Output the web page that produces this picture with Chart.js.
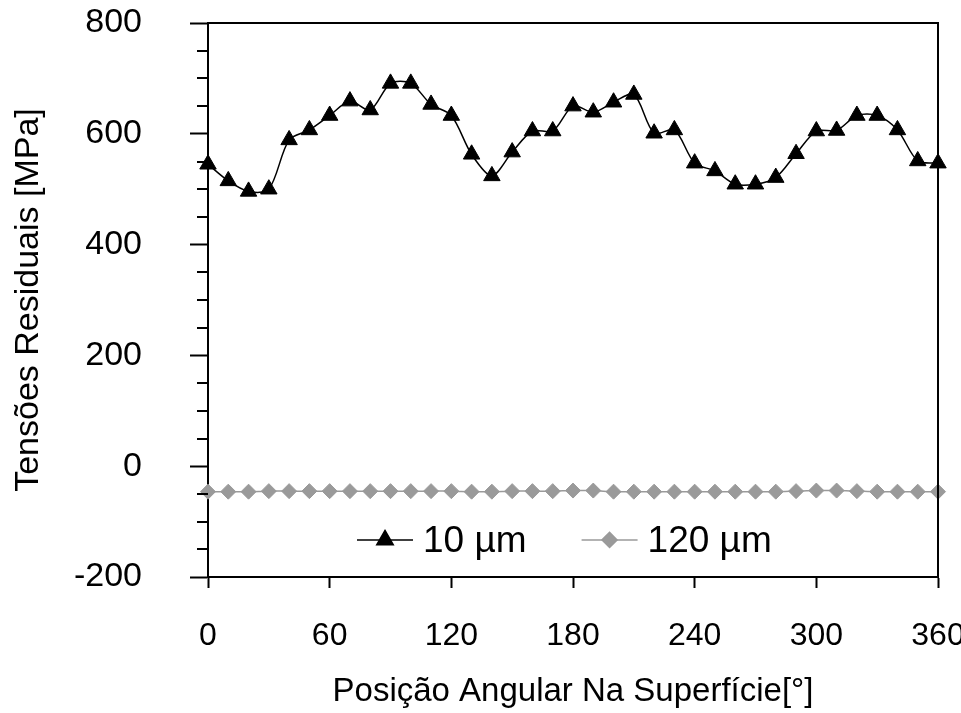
<!DOCTYPE html>
<html><head><meta charset="utf-8">
<script src="https://cdn.jsdelivr.net/npm/chart.js@4/dist/chart.umd.min.js"></script>
<style>html,body{margin:0;padding:0;background:#fff;} #wrap{width:961px;height:713px;position:relative;} canvas{display:block;}</style>
</head><body><div id="wrap"><canvas id="c" width="961" height="713"></canvas></div>
<script>
// ---- data ----
const angles = [0,10,20,30,40,50,60,70,80,90,100,110,120,130,140,150,160,170,180,190,200,210,220,230,240,250,260,270,280,290,300,310,320,330,340,350,360];
const stress10um = [545,515,496,500,589,607,633,659,643,691,691,653,633,563,524,567,605,605,650,639,657,671,601,607,547,533,509,509,521,564,605,606,633,633,607,551,547];
const stress120um = [-46,-46,-46,-45,-45,-45,-45,-45,-45,-45,-45,-45,-45,-46,-46,-45,-45,-45,-44,-44,-46,-46,-46,-46,-46,-46,-46,-46,-46,-45,-44,-44,-45,-46,-46,-46,-46];
const seriesLabels = ['10 \u00b5m', '120 \u00b5m'];
const xTickValues = [0,60,120,180,240,300,360];
const yTickValues = [-200,0,200,400,600,800];
const yMinorStep = 50;
const xTitle = 'Posição Angular Na Superfície[°]';
const yTitle = 'Tensões Residuais [MPa]';

const FONT = "'Liberation Sans', Arial, sans-serif";
const toXY = (ys) => angles.map((a, i) => ({x: a, y: ys[i]}));

const boxAndMinor = {
  id: 'boxAndMinor',
  afterDatasetsDraw(chart) {
    const {ctx, chartArea: ca, scales: {y}} = chart;
    ctx.save();
    ctx.strokeStyle = '#000';
    ctx.lineWidth = 2;
    ctx.beginPath();
    ctx.moveTo(ca.left, ca.top); ctx.lineTo(ca.right, ca.top); ctx.lineTo(ca.right, ca.bottom);
    ctx.stroke();
    for (let v = y.min; v <= y.max; v += yMinorStep) {
      if (yTickValues.includes(v)) continue;
      const py = Math.round(y.getPixelForValue(v));
      ctx.beginPath(); ctx.moveTo(ca.left - 11, py); ctx.lineTo(ca.left, py); ctx.stroke();
    }
    ctx.restore();
  },
  afterDraw(chart) {
    const {ctx, chartArea: ca, scales: {y}} = chart;
    ctx.save();
    ctx.font = '37px ' + FONT;
    ctx.textBaseline = 'middle';
    ctx.textAlign = 'left';
    const lineLen = 56, gap = 10, itemGap = 55;
    const widths = seriesLabels.map(t => ctx.measureText(t).width);
    let x = ca.left + 149;
    const py = y.getPixelForValue(-133);
    chart.data.datasets.forEach((ds, i) => {
      ctx.strokeStyle = ds.borderColor; ctx.lineWidth = ds.borderWidth;
      ctx.beginPath(); ctx.moveTo(x, py); ctx.lineTo(x + lineLen, py); ctx.stroke();
      ctx.fillStyle = ds.pointBackgroundColor; ctx.strokeStyle = ds.pointBorderColor;
      Chart.helpers.drawPoint(ctx, {pointStyle: ds.pointStyle, radius: ds.pointRadius, borderWidth: 1, rotation: 0}, x + lineLen / 2, py);
      ctx.fillStyle = '#000';
      ctx.fillText(ds.label, x + lineLen + gap, py + 2);
      x += lineLen + gap + widths[i] + itemGap;
    });
    ctx.restore();
  }
};

new Chart(document.getElementById('c'), {
  type: 'line',
  data: {
    datasets: [
      {label: seriesLabels[0], data: toXY(stress10um), borderColor: '#000', borderWidth: 1.5,
       pointStyle: 'triangle', pointRadius: 9.5, pointBackgroundColor: '#000', pointBorderColor: '#000',
       pointBorderWidth: 1, tension: 0.3, clip: false},
      {label: seriesLabels[1], data: toXY(stress120um), borderColor: '#9a9a9a', borderWidth: 1.5,
       pointStyle: 'rectRot', pointRadius: 7.5, pointBackgroundColor: '#9a9a9a', pointBorderColor: '#9a9a9a',
       pointBorderWidth: 1, tension: 0.3, clip: false}
    ]
  },
  options: {
    responsive: false,
    animation: false,
    devicePixelRatio: 1,
    layout: {padding: {left: 0, right: 23, top: 23, bottom: 0}},
    plugins: {legend: {display: false}, tooltip: {enabled: false}},
    scales: {
      x: {
        type: 'linear', min: 0, max: 360,
        afterBuildTicks: (s) => { s.ticks = xTickValues.map(v => ({value: v})); },
        afterFit: (s) => { s.height = 136; s.paddingLeft = 0; s.paddingRight = 0; },
        ticks: {color: '#000', font: {family: FONT, size: 32}, padding: 29, maxRotation: 0, autoSkip: false},
        grid: {drawOnChartArea: false, drawTicks: true, tickLength: 11, tickColor: '#000', tickWidth: 2},
        border: {color: '#000', width: 2},
        title: {display: true, text: xTitle, color: '#000', font: {family: FONT, size: 33}, padding: {top: 0, bottom: 1}}
      },
      y: {
        type: 'linear', min: -200, max: 800,
        afterBuildTicks: (s) => { s.ticks = yTickValues.map(v => ({value: v})); },
        afterFit: (s) => { s.width = 208; s.paddingTop = 0; s.paddingBottom = 0; },
        ticks: {color: '#000', font: {family: FONT, size: 34}, padding: 48, autoSkip: false},
        grid: {drawOnChartArea: false, drawTicks: true, tickLength: 18, tickColor: '#000', tickWidth: 2},
        border: {color: '#000', width: 2},
        title: {display: true, text: yTitle, color: '#000', font: {family: FONT, size: 34}, padding: {top: 8, bottom: 0}}
      }
    }
  },
  plugins: [boxAndMinor]
});
</script></body></html>
